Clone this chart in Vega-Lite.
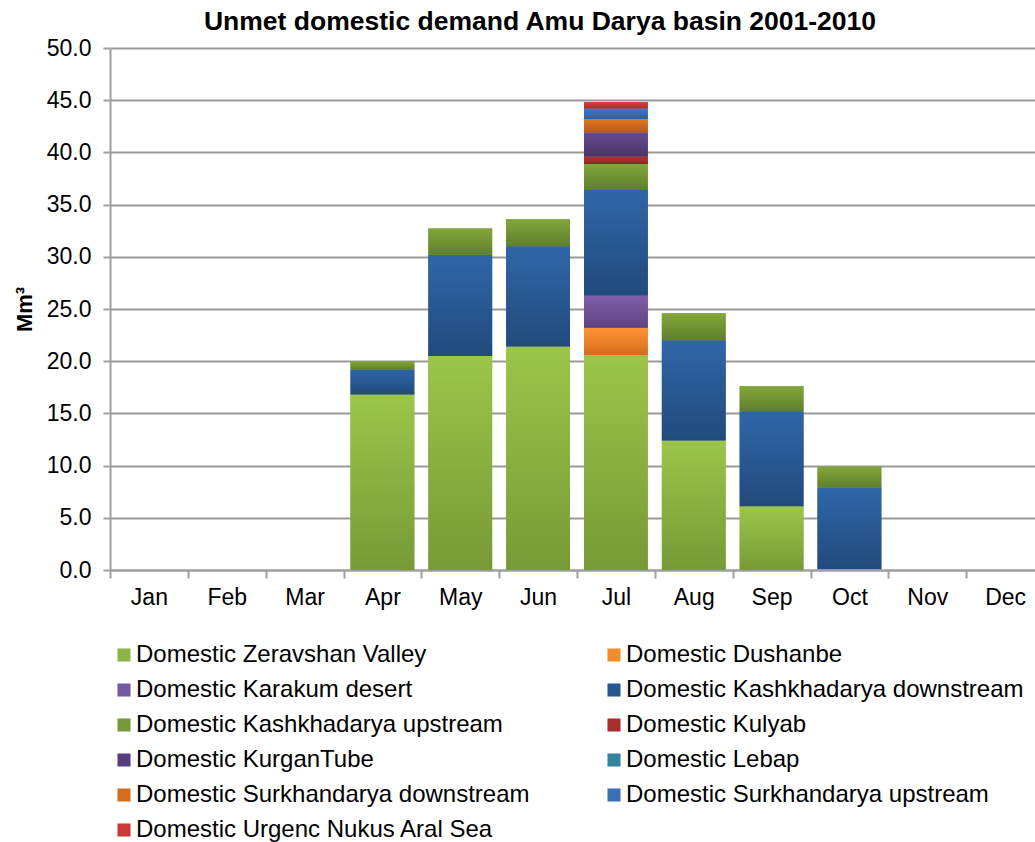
{
  "$schema": "https://vega.github.io/schema/vega-lite/v6.json",
  "width": 934,
  "height": 522,
  "autosize": "none",
  "padding": {"left": 110, "top": 48, "right": -9, "bottom": 272},
  "background": "white",
  "title": {
    "text": "Unmet domestic demand Amu Darya basin 2001-2010",
    "font": "Liberation Sans",
    "fontSize": 26.5,
    "fontWeight": "bold",
    "color": "#000000",
    "anchor": "middle",
    "dx": -37,
    "offset": 2
  },
  "config": {
    "view": {"stroke": null},
    "font": "Liberation Sans"
  },
  "data": {
    "values": [
      {"month": "Apr", "series": "Domestic Zeravshan Valley", "k": 0, "value": 16.8},
      {"month": "Apr", "series": "Domestic Kashkhadarya downstream", "k": 3, "value": 2.4},
      {"month": "Apr", "series": "Domestic Kashkhadarya upstream", "k": 4, "value": 0.8},
      {"month": "May", "series": "Domestic Zeravshan Valley", "k": 0, "value": 20.5},
      {"month": "May", "series": "Domestic Kashkhadarya downstream", "k": 3, "value": 9.7},
      {"month": "May", "series": "Domestic Kashkhadarya upstream", "k": 4, "value": 2.5},
      {"month": "Jun", "series": "Domestic Zeravshan Valley", "k": 0, "value": 21.4},
      {"month": "Jun", "series": "Domestic Kashkhadarya downstream", "k": 3, "value": 9.6},
      {"month": "Jun", "series": "Domestic Kashkhadarya upstream", "k": 4, "value": 2.6},
      {"month": "Jul", "series": "Domestic Zeravshan Valley", "k": 0, "value": 20.6},
      {"month": "Jul", "series": "Domestic Dushanbe", "k": 1, "value": 2.6},
      {"month": "Jul", "series": "Domestic Karakum desert", "k": 2, "value": 3.1},
      {"month": "Jul", "series": "Domestic Kashkhadarya downstream", "k": 3, "value": 10.1},
      {"month": "Jul", "series": "Domestic Kashkhadarya upstream", "k": 4, "value": 2.5},
      {"month": "Jul", "series": "Domestic Kulyab", "k": 5, "value": 0.7},
      {"month": "Jul", "series": "Domestic KurganTube", "k": 6, "value": 2.3},
      {"month": "Jul", "series": "Domestic Surkhandarya downstream", "k": 8, "value": 1.3},
      {"month": "Jul", "series": "Domestic Surkhandarya upstream", "k": 9, "value": 1.0},
      {"month": "Jul", "series": "Domestic Urgenc Nukus Aral Sea", "k": 10, "value": 0.6},
      {"month": "Aug", "series": "Domestic Zeravshan Valley", "k": 0, "value": 12.4},
      {"month": "Aug", "series": "Domestic Kashkhadarya downstream", "k": 3, "value": 9.6},
      {"month": "Aug", "series": "Domestic Kashkhadarya upstream", "k": 4, "value": 2.6},
      {"month": "Sep", "series": "Domestic Zeravshan Valley", "k": 0, "value": 6.1},
      {"month": "Sep", "series": "Domestic Kashkhadarya downstream", "k": 3, "value": 9.1},
      {"month": "Sep", "series": "Domestic Kashkhadarya upstream", "k": 4, "value": 2.4},
      {"month": "Oct", "series": "Domestic Zeravshan Valley", "k": 0, "value": 0.1},
      {"month": "Oct", "series": "Domestic Kashkhadarya downstream", "k": 3, "value": 7.8},
      {"month": "Oct", "series": "Domestic Kashkhadarya upstream", "k": 4, "value": 2.0}
    ]
  },
  "transform": [
    {"stack": "value", "groupby": ["month"], "sort": [{"field": "k", "order": "ascending"}], "as": ["v0", "v1"]}
  ],
  "encoding": {
    "x": {
      "field": "month",
      "type": "nominal",
      "sort": ["Jan", "Feb", "Mar", "Apr", "May", "Jun", "Jul", "Aug", "Sep", "Oct", "Nov", "Dec"],
      "scale": {
        "domain": ["Jan", "Feb", "Mar", "Apr", "May", "Jun", "Jul", "Aug", "Sep", "Oct", "Nov", "Dec"],
        "paddingInner": 0,
        "paddingOuter": 0
      },
      "axis": {
        "title": null,
        "labelAngle": 0,
        "labelFontSize": 23,
        "labelColor": "#000000",
        "labelPadding": 8,
        "tickBand": "extent",
        "tickSize": 8,
        "tickColor": "#a0a0a0",
        "tickWidth": 2,
        "domainColor": "#a0a0a0",
        "domainWidth": 2,
        "grid": false
      }
    },
    "y": {
      "field": "v1",
      "type": "quantitative",
      "scale": {"domain": [0, 50], "nice": false},
      "axis": {
        "title": "Mm³",
        "titleFontSize": 22,
        "titleFontWeight": "bold",
        "titleColor": "#000000",
        "titlePadding": 10,
        "values": [0, 5, 10, 15, 20, 25, 30, 35, 40, 45, 50],
        "format": ".1f",
        "labelFontSize": 23,
        "labelColor": "#000000",
        "labelPadding": 12,
        "tickSize": 7,
        "tickColor": "#a0a0a0",
        "tickWidth": 2,
        "domainColor": "#a0a0a0",
        "domainWidth": 2,
        "grid": true,
        "gridColor": "#999999",
        "gridWidth": 2
      }
    },
    "y2": {"field": "v0"}
  },
  "layer": [
    {
      "mark": {"type": "bar", "width": {"band": 0.82}},
      "encoding": {
        "color": {
          "field": "series",
          "type": "nominal",
          "scale": {
            "domain": [
              "Domestic Zeravshan Valley",
              "Domestic Karakum desert",
              "Domestic Kashkhadarya upstream",
              "Domestic KurganTube",
              "Domestic Surkhandarya downstream",
              "Domestic Urgenc Nukus Aral Sea",
              "Domestic Dushanbe",
              "Domestic Kashkhadarya downstream",
              "Domestic Kulyab",
              "Domestic Lebap",
              "Domestic Surkhandarya upstream"
            ],
            "range": [
              "#8db545",
              "#7457a0",
              "#74983a",
              "#573f7f",
              "#d66d1c",
              "#cc3838",
              "#f38c2c",
              "#28578f",
              "#a72e2c",
              "#31859c",
              "#3a6fb3"
            ]
          },
          "legend": {
            "title": null,
            "orient": "none",
            "legendX": 2,
            "legendY": 595,
            "columns": 2,
            "columnPadding": 72,
            "rowPadding": 11,
            "symbolType": "square",
            "symbolSize": 170,
            "symbolStrokeWidth": 0,
            "symbolOffset": 0,
            "labelFontSize": 24,
            "labelColor": "#000000",
            "labelOffset": 0,
            "labelLimit": 600
          }
        }
      }
    },
    {
      "transform": [{"filter": "datum.series === 'Domestic Zeravshan Valley'"}],
      "mark": {"type": "bar", "width": {"band": 0.82}, "color": {"gradient": "linear", "x1": 0, "y1": 0, "x2": 0, "y2": 1, "stops": [{"offset": 0, "color": "#9cc54a"}, {"offset": 1, "color": "#779a36"}]}}
    },
    {
      "transform": [{"filter": "datum.series === 'Domestic Dushanbe'"}],
      "mark": {"type": "bar", "width": {"band": 0.82}, "color": {"gradient": "linear", "x1": 0, "y1": 0, "x2": 0, "y2": 1, "stops": [{"offset": 0, "color": "#ff9534"}, {"offset": 1, "color": "#d46b1e"}]}}
    },
    {
      "transform": [{"filter": "datum.series === 'Domestic Karakum desert'"}],
      "mark": {"type": "bar", "width": {"band": 0.82}, "color": {"gradient": "linear", "x1": 0, "y1": 0, "x2": 0, "y2": 1, "stops": [{"offset": 0, "color": "#815fad"}, {"offset": 1, "color": "#5d427f"}]}}
    },
    {
      "transform": [{"filter": "datum.series === 'Domestic Kashkhadarya downstream'"}],
      "mark": {"type": "bar", "width": {"band": 0.82}, "color": {"gradient": "linear", "x1": 0, "y1": 0, "x2": 0, "y2": 1, "stops": [{"offset": 0, "color": "#2f66a8"}, {"offset": 1, "color": "#224a7c"}]}}
    },
    {
      "transform": [{"filter": "datum.series === 'Domestic Kashkhadarya upstream'"}],
      "mark": {"type": "bar", "width": {"band": 0.82}, "color": {"gradient": "linear", "x1": 0, "y1": 0, "x2": 0, "y2": 1, "stops": [{"offset": 0, "color": "#83a73b"}, {"offset": 1, "color": "#5f7f2c"}]}}
    },
    {
      "transform": [{"filter": "datum.series === 'Domestic Kulyab'"}],
      "mark": {"type": "bar", "width": {"band": 0.82}, "color": {"gradient": "linear", "x1": 0, "y1": 0, "x2": 0, "y2": 1, "stops": [{"offset": 0, "color": "#b03431"}, {"offset": 1, "color": "#8d2624"}]}}
    },
    {
      "transform": [{"filter": "datum.series === 'Domestic KurganTube'"}],
      "mark": {"type": "bar", "width": {"band": 0.82}, "color": {"gradient": "linear", "x1": 0, "y1": 0, "x2": 0, "y2": 1, "stops": [{"offset": 0, "color": "#664b93"}, {"offset": 1, "color": "#4a3568"}]}}
    },
    {
      "transform": [{"filter": "datum.series === 'Domestic Surkhandarya downstream'"}],
      "mark": {"type": "bar", "width": {"band": 0.82}, "color": {"gradient": "linear", "x1": 0, "y1": 0, "x2": 0, "y2": 1, "stops": [{"offset": 0, "color": "#e27622"}, {"offset": 1, "color": "#b8581a"}]}}
    },
    {
      "transform": [{"filter": "datum.series === 'Domestic Surkhandarya upstream'"}],
      "mark": {"type": "bar", "width": {"band": 0.82}, "color": {"gradient": "linear", "x1": 0, "y1": 0, "x2": 0, "y2": 1, "stops": [{"offset": 0, "color": "#3e7ac6"}, {"offset": 1, "color": "#2e5f9e"}]}}
    },
    {
      "transform": [{"filter": "datum.series === 'Domestic Urgenc Nukus Aral Sea'"}],
      "mark": {"type": "bar", "width": {"band": 0.82}, "color": {"gradient": "linear", "x1": 0, "y1": 0, "x2": 0, "y2": 1, "stops": [{"offset": 0, "color": "#d43e3e"}, {"offset": 1, "color": "#b32f2f"}]}}
    }
  ]
}
